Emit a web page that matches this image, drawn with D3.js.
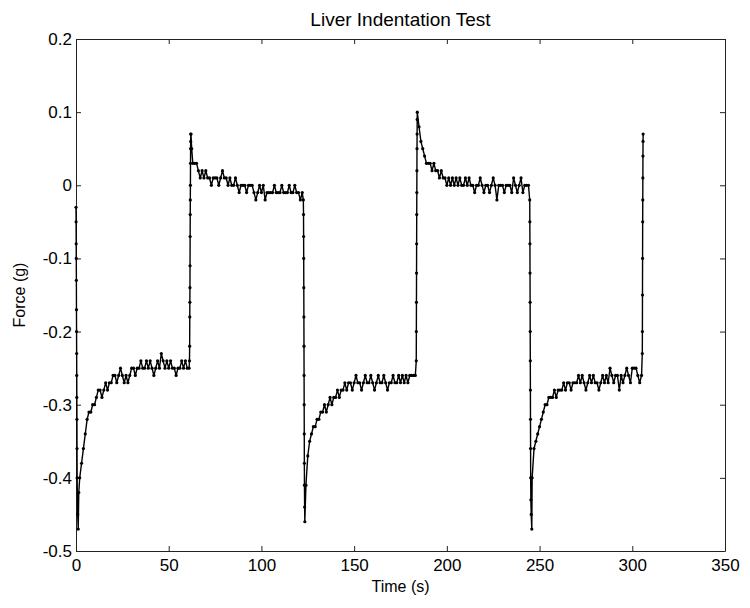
<!DOCTYPE html>
<html>
<head>
<meta charset="utf-8">
<script src="https://cdn.jsdelivr.net/npm/d3@7"></script>
<style>
  body { margin: 0; background: #fff; }
  text { font-family: "Liberation Sans", Arial, Helvetica, sans-serif; fill: #000; }
</style>
</head>
<body>
<svg class="chart"></svg>
<script>
// tick values + labels (matlab style, hyphen minus)
const xTicks = [0, 50, 100, 150, 200, 250, 300, 350];
const yTicks = [-0.5, -0.4, -0.3, -0.2, -0.1, 0, 0.1, 0.2];
const yTickLabels = ["-0.5", "-0.4", "-0.3", "-0.2", "-0.1", "0", "0.1", "0.2"];

// fast transitions
const drop1Time  = [0, 0.05, 0.1, 0.15, 0.2, 0.25, 0.3, 0.35, 0.4, 0.45, 0.5, 0.55, 0.6, 0.9, 1.2, 1.5];
const drop1Force = [-0.03, -0.05, -0.08, -0.10, -0.13, -0.17, -0.20, -0.23, -0.26, -0.29, -0.32, -0.36, -0.40, -0.45, -0.47, -0.42];

const rise1Time  = [61.2, 61.3, 61.35, 61.4, 61.45, 61.5, 61.55, 61.6, 61.65, 61.7, 61.75, 61.8, 61.85, 61.9, 62.0, 62.4];
const rise1Force = [-0.24, -0.22, -0.18, -0.16, -0.14, -0.11, -0.07, -0.04, -0.02, 0.00, 0.03, 0.05, 0.06, 0.07, 0.07, 0.05];

const drop2Time  = [122.6, 122.7, 122.75, 122.8, 122.85, 122.9, 122.95, 123.0, 123.05, 123.1, 123.15, 123.2, 123.3, 123.4];
const drop2Force = [-0.02, -0.04, -0.07, -0.10, -0.14, -0.18, -0.22, -0.26, -0.30, -0.34, -0.38, -0.41, -0.44, -0.46];

const rise2Time  = [183.5, 183.55, 183.6, 183.65, 183.7, 183.75, 183.8, 183.85, 183.9, 183.95, 184.0, 184.05];
const rise2Force = [-0.24, -0.20, -0.16, -0.12, -0.08, -0.04, -0.01, 0.02, 0.05, 0.07, 0.09, 0.10];

const drop3Time  = [244.7, 244.75, 244.8, 244.85, 244.9, 244.95, 245.0, 245.05, 245.1, 245.15, 245.2, 245.3, 245.5, 245.8];
const drop3Force = [-0.02, -0.05, -0.08, -0.12, -0.16, -0.20, -0.24, -0.28, -0.32, -0.36, -0.40, -0.43, -0.45, -0.47];

const rise3Time  = [305.4, 305.45, 305.5, 305.55, 305.6, 305.65, 305.7, 305.75, 305.8, 305.85];
const rise3Force = [-0.23, -0.20, -0.15, -0.10, -0.05, -0.02, 0.01, 0.04, 0.06, 0.07];

// slow parts, one sample per second
const holdStep = 1;
const hold1Start = 2;
const hold1Force = [-0.40, -0.38, -0.36, -0.34, -0.32, -0.31, -0.31, -0.30, -0.30, -0.29,
  -0.28, -0.28, -0.29, -0.28, -0.27, -0.28, -0.27, -0.27, -0.26, -0.26,
  -0.27, -0.26, -0.25, -0.26, -0.27, -0.26, -0.27, -0.26, -0.25, -0.25,
  -0.26, -0.25, -0.25, -0.24, -0.25, -0.25, -0.24, -0.25, -0.24, -0.25,
  -0.26, -0.25, -0.24, -0.25, -0.23, -0.24, -0.25, -0.24, -0.25, -0.24,
  -0.25, -0.25, -0.26, -0.25, -0.25, -0.24, -0.25, -0.24, -0.25, -0.25];

const release1Start = 63;
const release1Force = [0.03, 0.03, 0.03, 0.02, 0.01, 0.02, 0.01, 0.02, 0.01, 0.01,
  0.00, 0.01, 0.01, 0.01, 0.00, 0.01, 0.02, 0.01, 0.01, 0.00,
  0.01, 0.00, 0.00, 0.01, 0.00, -0.01, 0.00, 0.00, 0.00, -0.01,
  0.00, 0.00, 0.00, -0.01, -0.02, -0.01, 0.00, -0.01, 0.00, -0.02,
  -0.01, -0.01, -0.01, -0.01, 0.00, -0.01, -0.01, -0.01, 0.00, -0.01,
  -0.01, -0.01, 0.00, -0.01, -0.01, 0.00, -0.01, -0.01, -0.02, -0.01];

const hold2Start = 124;
const hold2Force = [-0.41, -0.37, -0.35, -0.34, -0.33, -0.33, -0.32, -0.32, -0.31, -0.31,
  -0.30, -0.31, -0.30, -0.29, -0.30, -0.29, -0.29, -0.28, -0.29, -0.28,
  -0.28, -0.27, -0.28, -0.27, -0.27, -0.28, -0.27, -0.26, -0.27, -0.27,
  -0.28, -0.27, -0.26, -0.27, -0.27, -0.26, -0.27, -0.28, -0.27, -0.26,
  -0.27, -0.27, -0.26, -0.27, -0.28, -0.27, -0.27, -0.26, -0.27, -0.27,
  -0.26, -0.27, -0.26, -0.27, -0.26, -0.27, -0.26, -0.26, -0.26, -0.26];

const release2Start = 185;
const release2Force = [0.08, 0.06, 0.05, 0.04, 0.03, 0.03, 0.03, 0.02, 0.03, 0.02,
  0.02, 0.01, 0.02, 0.01, 0.01, 0.00, 0.01, 0.00, 0.01, 0.00,
  0.01, 0.00, 0.01, 0.00, 0.00, 0.01, 0.00, 0.01, 0.00, 0.00,
  -0.01, 0.00, 0.00, 0.01, 0.00, -0.01, 0.00, 0.00, -0.01, 0.00,
  0.01, 0.00, -0.02, 0.00, 0.00, 0.00, -0.01, 0.00, 0.00, 0.00,
  -0.01, 0.01, 0.00, -0.01, 0.00, 0.01, -0.01, 0.00, 0.00, 0.00];

const hold3Start = 246;
const hold3Force = [-0.40, -0.36, -0.35, -0.34, -0.33, -0.32, -0.31, -0.30, -0.30, -0.29,
  -0.29, -0.29, -0.28, -0.29, -0.28, -0.28, -0.28, -0.27, -0.28, -0.27,
  -0.27, -0.28, -0.27, -0.27, -0.27, -0.26, -0.27, -0.26, -0.27, -0.28,
  -0.27, -0.26, -0.27, -0.26, -0.27, -0.27, -0.28, -0.27, -0.26, -0.27,
  -0.26, -0.27, -0.25, -0.26, -0.27, -0.26, -0.26, -0.28, -0.26, -0.27,
  -0.26, -0.25, -0.26, -0.27, -0.25, -0.25, -0.25, -0.26, -0.27, -0.26];

// stitch everything into one [t, f] list, in time order
function pairs(ts, fs) { return ts.map((t, i) => [t, fs[i]]); }
function held(start, fs) { return fs.map((f, i) => [start + i * holdStep, f]); }

const data = [].concat(
  pairs(drop1Time, drop1Force),
  held(hold1Start, hold1Force),
  pairs(rise1Time, rise1Force),
  held(release1Start, release1Force),
  pairs(drop2Time, drop2Force),
  held(hold2Start, hold2Force),
  pairs(rise2Time, rise2Force),
  held(release2Start, release2Force),
  pairs(drop3Time, drop3Force),
  held(hold3Start, hold3Force),
  pairs(rise3Time, rise3Force)
);

const margin = {top: 39, right: 25, bottom: 57, left: 76};
const width = 750 - margin.left - margin.right;
const height = 608 - margin.top - margin.bottom;

const svg = d3.select(".chart")
  .attr("width", 750)
  .attr("height", 608);

const chart = svg.append("g")
  .attr("transform", "translate(" + margin.left + "," + margin.top + ")");

const x = d3.scaleLinear().domain([0, 350]).range([0, width]);
const y = d3.scaleLinear().domain([-0.5, 0.2]).range([height, 0]);

// ticks point inward like matlab
const xAxis = d3.axisBottom(x).tickValues(xTicks).tickSizeInner(-5).tickSizeOuter(0).tickPadding(8);
const yAxis = d3.axisLeft(y).tickValues(yTicks).tickSizeInner(-5).tickSizeOuter(0).tickPadding(4)
  .tickFormat((d, i) => yTickLabels[i]);
const xTop = d3.axisTop(x).tickValues(xTicks).tickSizeInner(-5).tickSizeOuter(0).tickFormat("");
const yRight = d3.axisRight(y).tickValues(yTicks).tickSizeInner(-5).tickSizeOuter(0).tickFormat("");

chart.append("g").attr("class", "axis").attr("transform", "translate(0," + height + ")").call(xAxis);
chart.append("g").attr("class", "axis").call(yAxis);
chart.append("g").attr("class", "axis").call(xTop);
chart.append("g").attr("class", "axis").attr("transform", "translate(" + width + ",0)").call(yRight);

chart.selectAll(".axis path, .axis line").attr("stroke", "#222").attr("stroke-width", 1);
chart.selectAll(".axis text")
  .attr("font-family", "'Liberation Sans', Arial, sans-serif")
  .attr("font-size", 17)
  .attr("fill", "#000");

// the trace: line + small dots ('.-'), a bit heavy like the scan
const line = d3.line().x(d => x(d[0])).y(d => y(d[1]));
chart.append("path")
  .datum(data)
  .attr("fill", "none")
  .attr("stroke", "#000")
  .attr("stroke-width", 1.4)
  .attr("d", line);

chart.append("g").selectAll("circle")
  .data(data)
  .enter().append("circle")
  .attr("cx", d => x(d[0]))
  .attr("cy", d => y(d[1]))
  .attr("r", 1.6)
  .attr("fill", "#000");

// labels
svg.append("text")
  .attr("x", margin.left + width / 2)
  .attr("y", 26)
  .attr("text-anchor", "middle")
  .attr("font-size", 19)
  .text("Liver Indentation Test");

svg.append("text")
  .attr("x", margin.left + width / 2)
  .attr("y", 592)
  .attr("text-anchor", "middle")
  .attr("font-size", 16)
  .text("Time (s)");

svg.append("text")
  .attr("transform", "translate(25," + (margin.top + height / 2) + ") rotate(-90)")
  .attr("text-anchor", "middle")
  .attr("font-size", 16)
  .text("Force (g)");
</script>
</body>
</html>
